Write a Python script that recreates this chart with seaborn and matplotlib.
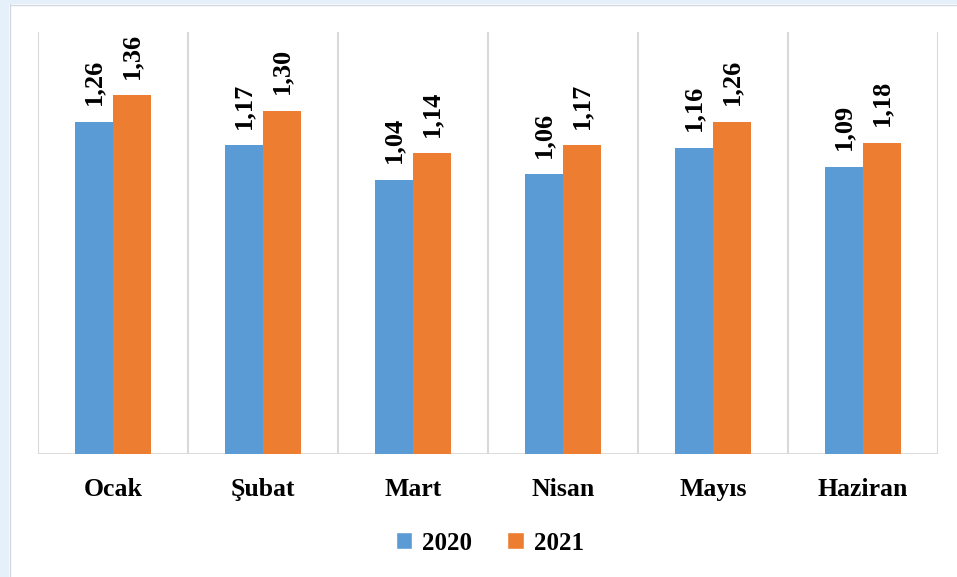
import pandas as pd
import matplotlib.pyplot as plt
import seaborn as sb
from matplotlib.patches import Rectangle
from matplotlib.lines import Line2D

# Monthly values for both years
months = ['Ocak', 'Şubat', 'Mart', 'Nisan', 'Mayıs', 'Haziran']
values2020 = [1.26, 1.17, 1.04, 1.06, 1.16, 1.09]
values2021 = [1.36, 1.30, 1.14, 1.17, 1.26, 1.18]
years = ['2020', '2021']
colors = ['#5B9BD5', '#ED7D31']

df = pd.DataFrame({
    'month': months * 2,
    'value': values2020 + values2021,
    'year': [years[0]] * len(months) + [years[1]] * len(months),
})

sb.set_style('white')
plt.rcParams['font.family'] = ['Liberation Serif', 'DejaVu Serif']

fig = plt.figure(figsize=(9.57, 5.77), dpi=100)
ax = fig.add_axes([38 / 957, 1 - 454 / 577, 900 / 957, 422 / 577])

# light frame around the chart area
fig.patches.append(Rectangle((0, 0), 9 / 957, 1, transform=fig.transFigure,
                             facecolor='#E6F0FB', edgecolor='none', zorder=0))
fig.patches.append(Rectangle((0, 1 - 4 / 577), 1, 4 / 577, transform=fig.transFigure,
                             facecolor='#E6F0FB', edgecolor='none', zorder=0))
fig.lines.append(Line2D([9.5 / 957, 9.5 / 957], [0, 1 - 4 / 577], transform=fig.transFigure,
                        color='#D0D8E0', lw=1))
fig.lines.append(Line2D([9.5 / 957, 1], [1 - 4.5 / 577, 1 - 4.5 / 577], transform=fig.transFigure,
                        color='#D0D8E0', lw=1))

sb.barplot(data=df, x='month', y='value', hue='year', palette=colors,
           width=0.507, gap=0, saturation=1, ax=ax, legend=False,
           linewidth=0, edgecolor='none')

ax.set_ylim(0, 1.6)
ax.set_xlim(-0.5, len(months) - 0.5)

# vertical separators between months
for i in range(len(months) + 1):
    ax.axvline(i - 0.5, color='#D9D9D9', lw=1.5, zorder=0)
ax.axhline(0, color='#D9D9D9', lw=2, zorder=0)

for s in ax.spines.values():
    s.set_visible(False)
ax.set_yticks([])
ax.set_xlabel('')
ax.set_ylabel('')
ax.tick_params(axis='x', length=0, pad=17, labelsize=18.5, labelcolor='black')
for t in ax.get_xticklabels():
    t.set_fontweight('bold')

for cont in ax.containers:
    ax.bar_label(cont, labels=[f'{v:.2f}'.replace('.', ',') for v in cont.datavalues],
                 rotation=90, padding=12, fontsize=19, fontweight='bold', color='black')

handles = [Rectangle((0, 0), 1, 1, facecolor=c) for c in colors]
leg = fig.legend(handles, years, loc='center', bbox_to_anchor=(490 / 957, 1 - 543 / 577),
                 ncol=2, frameon=False, handlelength=0.65, handleheight=0.65,
                 handletextpad=0.4, columnspacing=1.4, prop={'size': 18, 'weight': 'bold'})
for t in leg.get_texts():
    t.set_color('black')

fig.savefig('out.png', dpi=100)
